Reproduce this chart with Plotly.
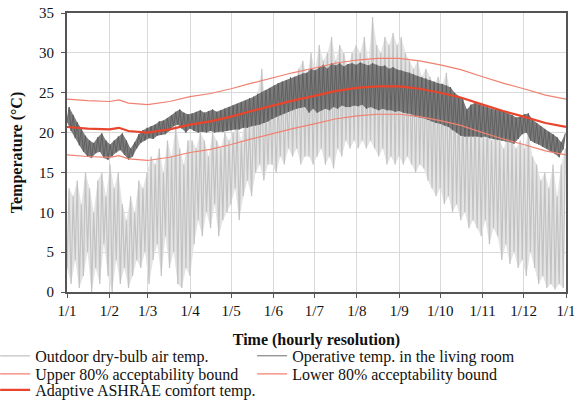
import plotly.graph_objects as go

# ---- data (day of year, °C) ----
month_days = [0, 31, 59, 90, 120, 151, 181, 212, 243, 273, 304, 334, 365]
month_labels = ["1/1", "1/2", "1/3", "1/4", "1/5", "1/6", "1/7", "1/8", "1/9", "1/10", "1/11", "1/12", "1/1"]

# 3-day sampling of the outdoor daily swing
sample_days = list(range(0, 366, 3))
outdoor_hi = [13, 12, 14, 11, 15, 13, 10, 14, 15, 12,
              16, 13, 15, 11, 9, 12, 10, 14, 13, 15,
              17, 16, 18, 15, 19, 17, 21, 18, 16, 19,
              19, 18, 20, 19, 17, 20, 19, 18, 20, 19,
              20, 21, 19, 22, 21, 23, 25, 28, 23, 24,
              25, 24, 26, 25, 27, 26, 28, 29, 27, 30,
              28, 31, 29, 30, 32, 29, 31, 30, 28, 30,
              31, 30, 32, 29, 34.5, 31, 30, 32, 31, 32.5,
              31, 32, 30, 29, 28, 29, 27, 28, 27, 26,
              27, 26, 27.5, 25, 24, 23, 22, 23, 21, 22,
              21, 20, 22, 19, 20, 19, 18, 20, 19, 18,
              19, 18, 20, 17, 16, 14, 15, 13, 16, 12,
              16, 18]
outdoor_lo = [3, 1, 4, 0.5, 2, 5, 0, 3, 1, 6,
              2, 0, 4, 1, 3, 0.5, 2, 4, 3, 5,
              1, 4, 6, 2, 7, 3, 5, 1, 0.5, 3,
              2, 6, 9, 7, 10, 8, 11, 7, 9, 10,
              11, 13, 9, 12, 14, 12, 15, 16, 14, 16,
              16, 15, 17, 16, 18, 17, 18, 16, 17, 17,
              16, 17, 18, 16, 17, 15.5, 18, 17, 19, 18,
              19, 18, 19, 18, 19, 18, 17, 18, 16, 17,
              16, 17, 16, 17, 16, 15, 16, 15.5, 14, 13,
              12, 13, 11, 12, 10, 11, 9, 10, 8, 9,
              8, 7, 9, 6, 8, 7, 4, 6, 3.5, 5,
              3, 4, 2, 5, 3, 1, 2, 0.5, 1, 0.3,
              1, 0.5]

operative_hi = [23.2, 22.2, 21.3, 20.5, 19.6, 19.0, 18.7, 19.4, 19.9, 19.0,
                18.5, 19.0, 19.5, 19.9, 19.0, 18.0, 18.8, 19.8, 20.3, 20.6,
                20.8, 21.0, 21.4, 21.5, 21.8, 22.2, 22.6, 22.9, 22.5, 22.3,
                22.4, 22.6, 22.8, 22.5, 22.7, 22.9, 22.6, 22.8, 23.0, 23.2,
                23.4, 23.6, 23.8, 24.0, 24.3, 24.5, 24.8, 25.1, 25.3, 25.6,
                25.9, 26.2, 26.4, 26.6, 26.9, 27.0, 27.2, 27.4, 27.5, 28.0,
                27.8, 28.2, 28.5, 28.0, 28.7, 28.4, 28.7, 28.3, 28.6, 28.7,
                28.5, 28.8, 28.6, 28.4, 28.7, 28.5, 28.3, 28.4, 28.0, 28.2,
                27.9, 27.8, 27.6, 27.5, 27.3, 27.1, 26.9, 26.8, 26.6, 26.4,
                26.2, 26.1, 25.9, 25.7, 25.0, 24.6, 24.2, 22.9, 23.5, 23.7,
                23.5, 23.3, 23.2, 23.0, 22.9, 22.8, 22.6, 22.4, 22.2, 21.9,
                22.0, 22.3, 22.4, 21.6, 21.2, 20.8, 20.4, 20.1, 19.8, 19.4,
                18.8, 19.9]
operative_lo = [21.3, 20.2, 19.3, 18.4, 17.6, 17.0, 16.8, 17.4, 17.6, 16.8,
                16.6, 17.0, 17.5, 17.8, 17.2, 16.6, 17.0, 18.0, 18.7, 19.0,
                19.3, 19.2, 19.6, 19.7, 19.8, 20.2, 20.8, 21.0, 20.5, 20.0,
                20.5, 20.2, 20.0, 20.1, 20.0, 20.2, 20.0, 20.1, 20.1, 20.2,
                20.3, 20.4, 20.4, 20.6, 20.6, 20.8, 20.9, 21.0, 21.2, 21.4,
                21.7, 22.0, 22.2, 22.4, 22.6, 22.8, 23.0, 23.1, 23.2, 22.5,
                23.0, 22.5, 22.8, 23.0, 22.8, 23.2, 23.0, 23.4, 23.2, 23.2,
                23.4, 23.3, 23.5, 23.0, 23.2, 23.0, 22.8, 23.0, 22.8, 22.8,
                22.6, 22.7, 22.5, 22.4, 22.3, 22.0, 21.9, 21.8, 21.6, 21.4,
                21.2, 21.1, 20.9, 20.7, 20.3, 20.0, 19.6, 19.5, 19.5, 19.5,
                19.5, 19.4, 19.5, 19.3, 19.2, 19.1, 19.0, 18.9, 18.8, 18.6,
                19.2, 19.8, 20.0, 19.0, 18.7, 18.5, 18.2, 18.0, 17.6, 17.3,
                16.9, 17.9]

comfort_days = [0, 15, 31, 38, 45, 59, 75, 90, 105, 120, 135, 151, 165, 181,
                196, 212, 227, 243, 258, 273, 288, 304, 319, 334, 350, 365]
comfort_temp = [20.7, 20.5, 20.4, 20.6, 20.2, 20.0, 20.4, 21.0, 21.4, 22.0, 22.7, 23.4, 24.0,
                24.6, 25.2, 25.6, 25.8, 25.8, 25.5, 25.0, 24.4, 23.5, 22.7, 22.0, 21.2, 20.7]
upper_bound = [24.2, 24.0, 23.9, 24.1, 23.7, 23.5, 23.9, 24.5, 24.9, 25.5, 26.2, 26.9, 27.5,
               28.1, 28.7, 29.1, 29.3, 29.3, 29.0, 28.5, 27.9, 27.0, 26.2, 25.5, 24.7, 24.2]
lower_bound = [17.2, 17.0, 16.9, 17.1, 16.7, 16.5, 16.9, 17.5, 17.9, 18.5, 19.2, 19.9, 20.5,
               21.1, 21.7, 22.1, 22.3, 22.3, 22.0, 21.5, 20.9, 20.0, 19.2, 18.5, 17.7, 17.2]


def zigzag(days, lo, hi):
    xs, ys = [], []
    for d, a, b in zip(days, lo, hi):
        xs += [d, d + 1.5]
        ys += [a, b]
    return xs, ys


def band(days, lo, hi):
    xs = [d + 1.5 for d in days] + list(reversed(days))
    ys = list(hi) + list(reversed(lo))
    return xs, ys


ox, oy = zigzag(sample_days, outdoor_lo, outdoor_hi)
px, py = zigzag(sample_days, operative_lo, operative_hi)
obx, oby = band(sample_days, outdoor_lo, outdoor_hi)
pbx, pby = band(sample_days, operative_lo, operative_hi)

FONT = "Liberation Serif, Times New Roman, serif"

fig = go.Figure()
fig.add_trace(go.Scatter(x=obx, y=oby, mode="lines", fill="toself", fillcolor="#e4e4e4",
                         line=dict(width=0), showlegend=False, hoverinfo="skip"))
fig.add_trace(go.Scatter(x=ox, y=oy, mode="lines", name="Outdoor dry-bulb air temp.",
                         line=dict(color="#c2c2c2", width=1.2), legend="legend"))
fig.add_trace(go.Scatter(x=pbx, y=pby, mode="lines", fill="toself", fillcolor="#7c7c7c",
                         line=dict(width=0), showlegend=False, hoverinfo="skip"))
fig.add_trace(go.Scatter(x=px, y=py, mode="lines", name="Operative temp. in the living room",
                         line=dict(color="#5c5c5c", width=0.9), legend="legend2"))
fig.add_trace(go.Scatter(x=comfort_days, y=upper_bound, mode="lines",
                         name="Upper 80% acceptability bound",
                         line=dict(color="#f08070", width=1.2), legend="legend3"))
fig.add_trace(go.Scatter(x=comfort_days, y=lower_bound, mode="lines",
                         name="Lower 80% acceptability bound",
                         line=dict(color="#f08070", width=1.2), legend="legend4"))
fig.add_trace(go.Scatter(x=comfort_days, y=comfort_temp, mode="lines",
                         name="Adaptive ASHRAE comfort temp.",
                         line=dict(color="#e8452c", width=2.2), legend="legend5"))

leg_common = dict(orientation="h", xanchor="left", yanchor="middle",
                  font=dict(family=FONT, size=16, color="#111"),
                  bgcolor="rgba(0,0,0,0)", itemwidth=30)
COL1, COL2 = -0.144, 0.371
ROW1, ROW2, ROW3 = -0.229, -0.294, -0.351

fig.update_layout(
    width=574, height=416,
    margin=dict(l=67, r=8, t=13, b=124, autoexpand=False),
    paper_bgcolor="white", plot_bgcolor="white",
    font=dict(family=FONT, size=15, color="#111"),
    showlegend=True,
    legend=dict(leg_common, x=COL1, y=ROW1),
    legend2=dict(leg_common, x=COL2, y=ROW1),
    legend3=dict(leg_common, x=COL1, y=ROW2),
    legend4=dict(leg_common, x=COL2, y=ROW2),
    legend5=dict(leg_common, x=COL1, y=ROW3),
    xaxis=dict(range=[0, 365], tickvals=month_days, ticktext=month_labels,
               showgrid=True, gridcolor="#d9d9d9", gridwidth=1,
               showline=True, linecolor="#555", linewidth=2, mirror=True,
               ticks="outside", ticklen=4, tickcolor="#555",
               ticklabelstandoff=0, ticklabeloverflow="allow",
               tickfont=dict(family=FONT, size=15),
               title=dict(text="<b>Time (hourly resolution)</b>", standoff=16,
                          font=dict(family=FONT, size=16)),
               zeroline=False),
    yaxis=dict(range=[0, 35], tickvals=[0, 5, 10, 15, 20, 25, 30, 35],
               showgrid=True, gridcolor="#d9d9d9", gridwidth=1,
               showline=True, linecolor="#555", linewidth=2, mirror=True,
               ticks="outside", ticklen=4, tickcolor="#555",
               ticklabelstandoff=4, ticklabeloverflow="allow",
               tickfont=dict(family=FONT, size=15),
               title=dict(text="<b>Temperature (°C)</b>", standoff=12,
                          font=dict(family=FONT, size=16)),
               zeroline=False),
)

fig.write_html("out.html", config={"displayModeBar": False},
               post_script="document.body.style.margin='0';document.body.style.overflow='hidden';")
